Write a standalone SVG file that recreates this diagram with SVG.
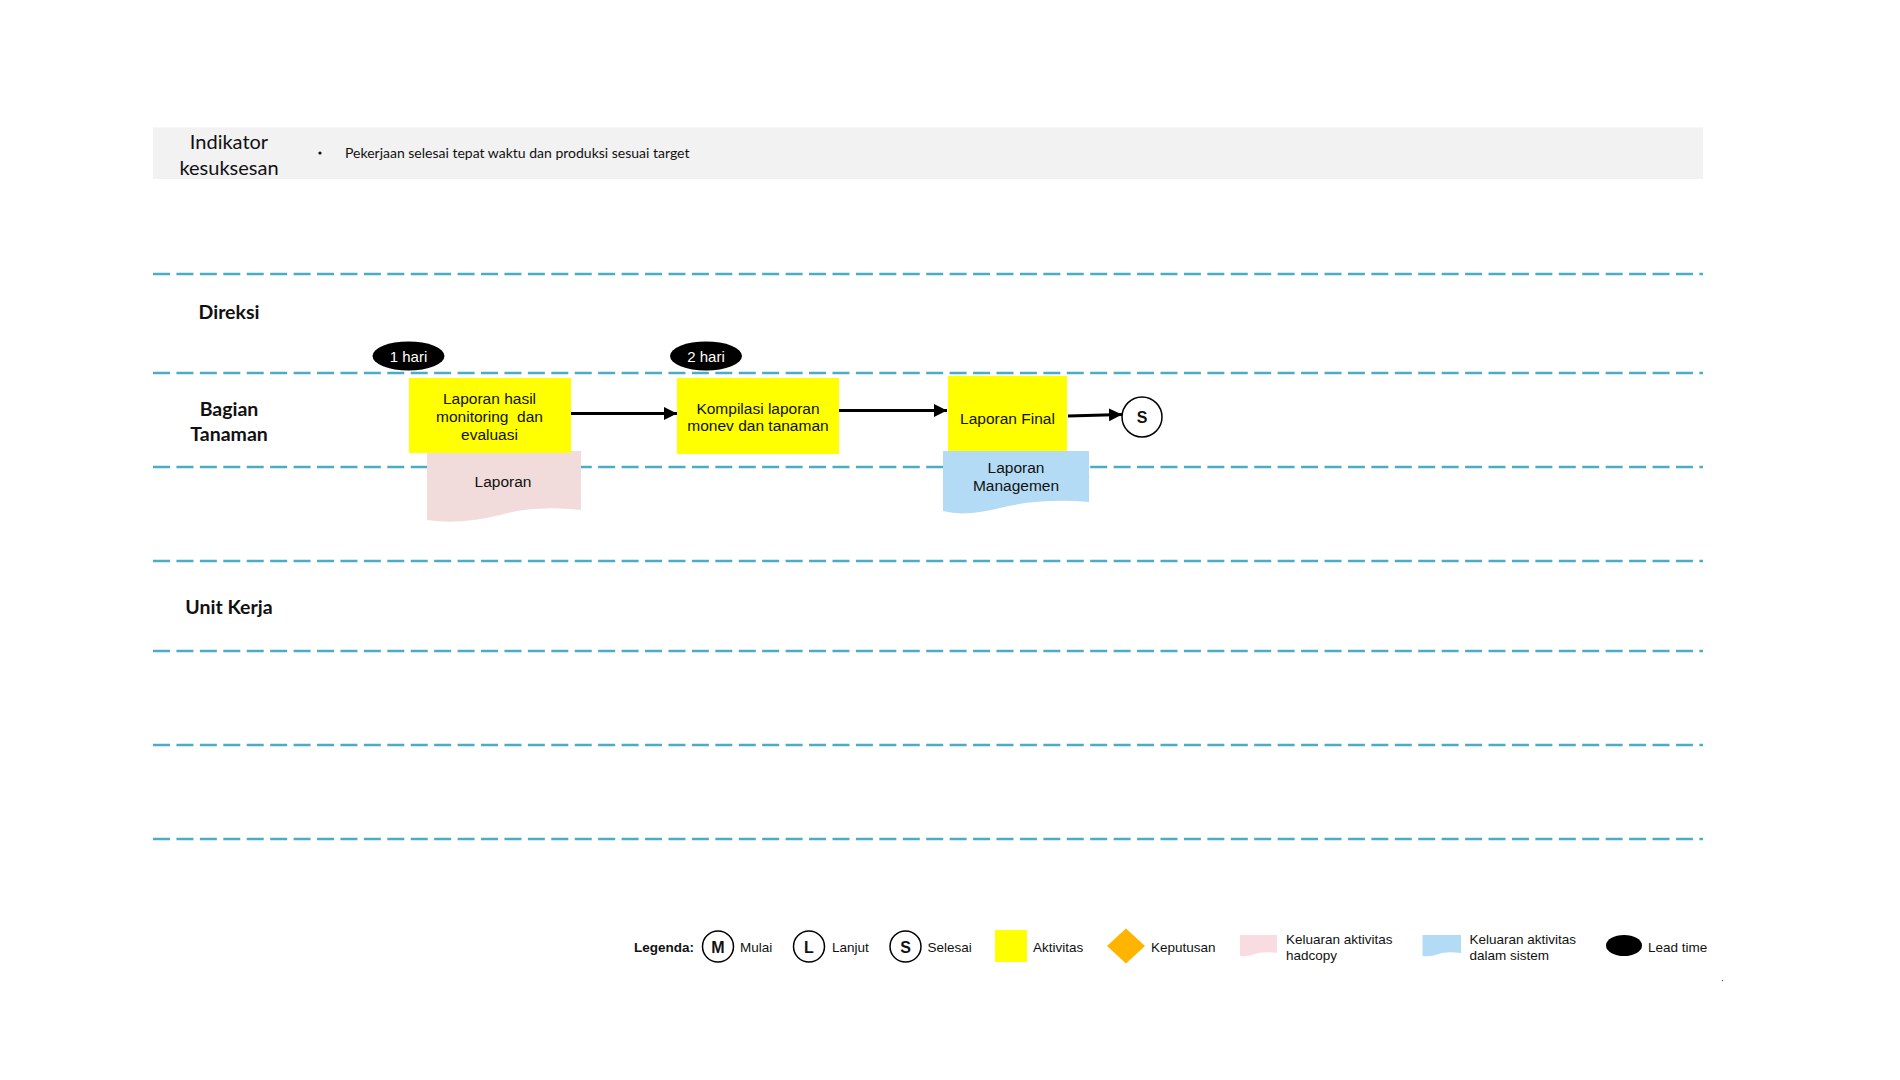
<svg xmlns="http://www.w3.org/2000/svg" width="1900" height="1080" viewBox="0 0 1900 1080">
  <style>
    .lane { stroke: #4BACC6; stroke-width: 2.3; stroke-dasharray: 17 6.43; fill: none; }
    .lanelbl { font-family: Lato, "Open Sans", sans-serif; font-weight: bold; font-size: 19.5px; fill: #111; text-anchor: middle; }
    .hdr { font-family: Lato, "Open Sans", sans-serif; fill: #111; }
    .act { fill: #FFFF00; }
    .t { font-family: "Liberation Sans", Arial, sans-serif; fill: #111; }
    .nt { font-size: 15.5px; text-anchor: middle; white-space: pre; }
    .lt { font-size: 15px; fill: #fff; text-anchor: middle; }
    .lg { font-size: 13.5px; }
    .conn { stroke: #000; stroke-width: 3; fill: none; }
    .circ { fill: #fff; stroke: #000; stroke-width: 1.5; }
  </style>
  <defs>
    <marker id="arrow" markerUnits="userSpaceOnUse" markerWidth="14" markerHeight="14" refX="13" refY="6.5" orient="auto">
      <path d="M0,0 L13,6.5 L0,13 Z" fill="#000"/>
    </marker>
  </defs>

  <rect width="1900" height="1080" fill="#fff"/>

  <!-- success indicator band -->
  <g id="indikator">
    <rect x="153" y="127.5" width="1550" height="51.5" fill="#F2F2F2"/>
    <text class="hdr" x="229" y="148.5" font-size="20" text-anchor="middle">Indikator</text>
    <text class="hdr" x="229" y="174.5" font-size="20" text-anchor="middle">kesuksesan</text>
    <circle cx="320" cy="153" r="1.6" fill="#111"/>
    <text class="hdr" x="345" y="158" font-size="14">Pekerjaan selesai tepat waktu dan produksi sesuai target</text>
  </g>

  <!-- swimlane separators -->
  <g id="lanes">
    <line class="lane" x1="153" y1="274" x2="1703" y2="274"/>
    <line class="lane" x1="153" y1="373" x2="1703" y2="373"/>
    <line class="lane" x1="153" y1="467" x2="1703" y2="467"/>
    <line class="lane" x1="153" y1="561" x2="1703" y2="561"/>
    <line class="lane" x1="153" y1="651" x2="1703" y2="651"/>
    <line class="lane" x1="153" y1="745" x2="1703" y2="745"/>
    <line class="lane" x1="153" y1="839" x2="1703" y2="839"/>
    <text class="lanelbl" x="229" y="319">Direksi</text>
    <text class="lanelbl" x="229" y="416">Bagian</text>
    <text class="lanelbl" x="229" y="441">Tanaman</text>
    <text class="lanelbl" x="229" y="614">Unit Kerja</text>
  </g>

  <!-- output documents (drawn under the activity boxes) -->
  <g id="doc-laporan">
    <path d="M427,451 H581 V510 Q535,505 500,515 Q460,525 427,520 Z" fill="#F2DCDB"/>
    <text class="t nt" x="503" y="487">Laporan</text>
  </g>
  <g id="doc-managemen">
    <path d="M943,451 H1089 V502 Q1040,498 1000,508 Q965,517 943,511 Z" fill="#B4DBF5"/>
    <text class="t nt" x="1016" y="472.5">Laporan</text>
    <text class="t nt" x="1016" y="490.5">Managemen</text>
  </g>

  <!-- activities -->
  <g id="act-laporan-hasil">
    <rect class="act" x="409" y="378" width="162" height="75"/>
    <text class="t nt" x="489.5" y="403.5">Laporan hasil</text>
    <text class="t nt" x="489.5" y="421.5">monitoring  dan</text>
    <text class="t nt" x="489.5" y="439.5">evaluasi</text>
  </g>
  <g id="act-kompilasi">
    <rect class="act" x="677" y="378" width="162" height="76"/>
    <text class="t nt" x="758" y="413.5">Kompilasi laporan</text>
    <text class="t nt" x="758" y="431">monev dan tanaman</text>
  </g>
  <g id="act-laporan-final">
    <rect class="act" x="948" y="376" width="119" height="75"/>
    <text class="t nt" x="1007.5" y="423.5">Laporan Final</text>
  </g>

  <!-- end event -->
  <g id="end-s">
    <circle class="circ" cx="1142" cy="417" r="20"/>
    <text class="t" x="1142" y="422.5" font-size="16" font-weight="bold" text-anchor="middle">S</text>
  </g>

  <!-- lead times -->
  <g id="lead-1">
    <ellipse cx="408.5" cy="356" rx="36" ry="14.5" fill="#000"/>
    <text class="t lt" x="408.5" y="361.5">1 hari</text>
  </g>
  <g id="lead-2">
    <ellipse cx="706" cy="356" rx="36" ry="14.5" fill="#000"/>
    <text class="t lt" x="706" y="361.5">2 hari</text>
  </g>

  <!-- connectors -->
  <g id="connectors">
    <line class="conn" x1="571" y1="413.5" x2="677" y2="413.5" marker-end="url(#arrow)"/>
    <line class="conn" x1="839" y1="410.5" x2="947" y2="410.5" marker-end="url(#arrow)"/>
    <line class="conn" x1="1068" y1="416" x2="1122" y2="414.5" stroke-width="3.5" marker-end="url(#arrow)"/>
  </g>

  <!-- legend -->
  <g id="legend">
    <text class="t lg" x="634" y="951.5" font-weight="bold">Legenda:</text>
    <circle class="circ" cx="718" cy="946.5" r="15.5"/>
    <text class="t" x="718" y="952.5" font-size="16" font-weight="bold" text-anchor="middle">M</text>
    <text class="t lg" x="740" y="951.5">Mulai</text>
    <circle class="circ" cx="809" cy="946.5" r="15.5"/>
    <text class="t" x="809" y="952.5" font-size="16" font-weight="bold" text-anchor="middle">L</text>
    <text class="t lg" x="832" y="951.5">Lanjut</text>
    <circle class="circ" cx="905.5" cy="946.5" r="15.5"/>
    <text class="t" x="905.5" y="952.5" font-size="16" font-weight="bold" text-anchor="middle">S</text>
    <text class="t lg" x="927.5" y="951.5">Selesai</text>
    <rect class="act" x="995" y="930" width="32" height="32"/>
    <text class="t lg" x="1033" y="951.5">Aktivitas</text>
    <path d="M1126,928.5 L1145,946 L1126,963.5 L1107,946 Z" fill="#FFB400"/>
    <text class="t lg" x="1151" y="951.5">Keputusan</text>
    <path d="M1240,935 H1277 V953 Q1262,951 1255,954 Q1247,957 1240,956 Z" fill="#F8DCE1"/>
    <text class="t lg" x="1286" y="943.5">Keluaran aktivitas</text>
    <text class="t lg" x="1286" y="959.5">hadcopy</text>
    <path d="M1422.5,935 H1461 V953 Q1446,951 1439,954 Q1430,957 1422.5,956 Z" fill="#B4DBF5"/>
    <text class="t lg" x="1469.5" y="943.5">Keluaran aktivitas</text>
    <text class="t lg" x="1469.5" y="959.5">dalam sistem</text>
    <ellipse cx="1624" cy="945.5" rx="18" ry="10.5" fill="#000"/>
    <text class="t lg" x="1648" y="951.5">Lead time</text>
    <circle cx="1722.5" cy="980.5" r="0.7" fill="#555"/>
  </g>
</svg>
